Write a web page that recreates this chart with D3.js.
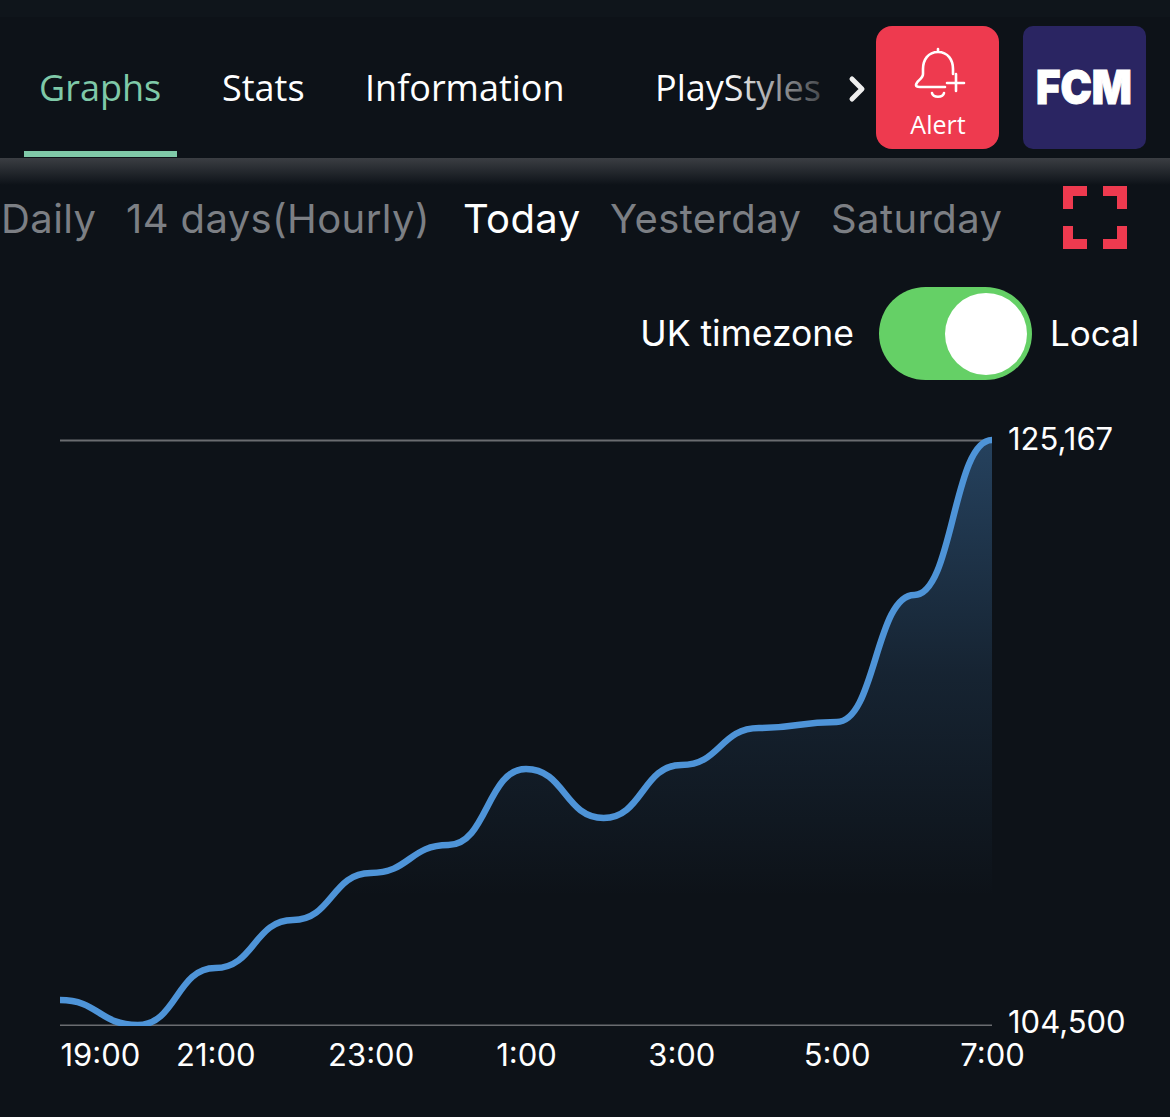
<!DOCTYPE html>
<html lang="en">
<head>
<meta charset="UTF-8">
<title>Player price graph</title>
<script src="https://cdn.jsdelivr.net/npm/d3@7"></script>
<style>
	html, body { margin: 0; padding: 0; background: #0d1218; }
	svg { display: block; }
	.tab { font-family: "Open Sans", sans-serif; font-size: 36px; fill: #fff; }
	.range { font-family: Inter, sans-serif; font-size: 40px; letter-spacing: 0.4px; fill: #7c7f84; }
	.tick text { font-family: Inter, sans-serif; font-size: 31px; fill: #fff; }
	.domain { display: none; }
</style>
</head>
<body>
<div id="vis"></div>
<script>
	var width = 1170;
	var height = 1117;

	// hourly prices
	var hours = ["19:00", "20:00", "21:00", "22:00", "23:00", "0:00", "1:00", "2:00", "3:00", "4:00", "5:00", "6:00", "7:00"];
	var prices = [105383, 104500, 106514, 108210, 109870, 110859, 113544, 111813, 113686, 114993, 115205, 119692, 125167];
	var priceTicks = [104500, 125167];
	var hourTicks = ["19:00", "21:00", "23:00", "1:00", "3:00", "5:00", "7:00"];
	var tabs = ["Graphs", "Stats", "Information", "PlayStyles"];
	var tabX = [39, 222, 365, 655];
	var ranges = ["Daily", "14 days(Hourly)", "Today", "Yesterday", "Saturday"];
	var rangeX = [1, 126, 463, 610, 831];

	var svg = d3.select("#vis").append("svg")
		.attr("width", width)
		.attr("height", height);

	var defs = svg.append("defs");

	var areaGrad = defs.append("linearGradient")
		.attr("id", "areaGrad")
		.attr("x1", 0).attr("x2", 0).attr("y1", 0).attr("y2", 1)
		.attr("gradientUnits", "objectBoundingBox");
	areaGrad.append("stop").attr("offset", "0%").attr("stop-color", "#4d8fd0").attr("stop-opacity", 0.38);
	areaGrad.append("stop").attr("offset", "40%").attr("stop-color", "#4d8fd0").attr("stop-opacity", 0.14);
	areaGrad.append("stop").attr("offset", "78%").attr("stop-color", "#4d8fd0").attr("stop-opacity", 0);

	var bandGrad = defs.append("linearGradient")
		.attr("id", "bandGrad")
		.attr("x1", 0).attr("x2", 0).attr("y1", 0).attr("y2", 1);
	bandGrad.append("stop").attr("offset", "0%").attr("stop-color", "#3b3e43");
	bandGrad.append("stop").attr("offset", "100%").attr("stop-color", "#0d1218");

	var fadeGrad = defs.append("linearGradient")
		.attr("id", "fadeGrad")
		.attr("gradientUnits", "userSpaceOnUse")
		.attr("x1", 725).attr("x2", 822).attr("y1", 0).attr("y2", 0);
	fadeGrad.append("stop").attr("offset", "0%").attr("stop-color", "#ffffff");
	fadeGrad.append("stop").attr("offset", "100%").attr("stop-color", "#44474b");

	// faint strip of the page header above the tabs
	svg.append("rect").attr("width", width).attr("height", 17).attr("fill", "#0f151b");

	// tabs
	svg.selectAll(".tab")
		.data(tabs)
		.enter().append("text")
		.attr("class", "tab")
		.attr("x", function(d, i) { return tabX[i]; })
		.attr("y", 101)
		.style("fill", function(d, i) {
			if (i == 0) return "#7fc9a8";
			if (i == 3) return "url(#fadeGrad)";
			return "#fff";
		})
		.text(function(d) { return d; });

	svg.append("rect").attr("x", 24).attr("y", 151).attr("width", 153).attr("height", 6).attr("fill", "#7fc9a8");
	svg.append("rect").attr("x", 0).attr("y", 158).attr("width", width).attr("height", 27).attr("fill", "url(#bandGrad)");

	svg.append("path")
		.attr("d", "M852,79 L862,89 L852,99")
		.attr("fill", "none").attr("stroke", "#eee").attr("stroke-width", 5).attr("stroke-linecap", "round").attr("stroke-linejoin", "round");

	// alert button
	svg.append("rect").attr("x", 876).attr("y", 26).attr("width", 123).attr("height", 123).attr("rx", 16).attr("fill", "#ee3a4f");
	svg.append("path")
		.attr("d", "M938,49 L938,52 C928,52 923,60 923,69 L923,74 C923,79 916,81 916,85 C916,87 918,87 920,87 L945,87 M938,52 C948,52 953,60 953,69 L953,74 M932,93 C933,98 943,98 944,93 M947,83 L964,83 M956,74 L956,91")
		.attr("fill", "none").attr("stroke", "#fff").attr("stroke-width", 2.6).attr("stroke-linecap", "round").attr("stroke-linejoin", "round");
	svg.append("text")
		.attr("x", 938).attr("y", 134)
		.attr("text-anchor", "middle")
		.attr("font-family", "Open Sans, sans-serif").attr("font-size", 25).attr("fill", "#fff")
		.text("Alert");

	// logo
	svg.append("rect").attr("x", 1023).attr("y", 26).attr("width", 123).attr("height", 123).attr("rx", 10).attr("fill", "#2a2562");
	svg.append("text")
		.attr("x", 1036).attr("y", 104)
		.attr("textLength", 96).attr("lengthAdjust", "spacingAndGlyphs")
		.attr("font-family", "Inter, sans-serif").attr("font-weight", 900).attr("font-size", 47)
		.attr("fill", "#fff").attr("stroke", "#fff").attr("stroke-width", 1)
		.text("FCM");

	// range selector
	svg.selectAll(".range")
		.data(ranges)
		.enter().append("text")
		.attr("class", "range")
		.attr("x", function(d, i) { return rangeX[i]; })
		.attr("y", 233)
		.style("fill", function(d) { return d == "Today" ? "#fff" : "#7c7f84"; })
		.text(function(d) { return d; });

	// fullscreen corners
	svg.append("path")
		.attr("d", "M1087,191 L1068,191 L1068,209 M1103,191 L1122,191 L1122,209 M1087,244 L1068,244 L1068,226 M1103,244 L1122,244 L1122,226")
		.attr("fill", "none").attr("stroke", "#ee3a4f").attr("stroke-width", 10);

	// timezone toggle
	svg.append("text")
		.attr("x", 854).attr("y", 346).attr("text-anchor", "end")
		.attr("font-family", "Inter, sans-serif").attr("font-size", 35.5).attr("fill", "#fff")
		.text("UK timezone");
	svg.append("text")
		.attr("x", 1050).attr("y", 346)
		.attr("font-family", "Inter, sans-serif").attr("font-size", 35).attr("fill", "#fff")
		.text("Local");
	svg.append("rect").attr("x", 879).attr("y", 287).attr("width", 153).attr("height", 93).attr("rx", 46.5).attr("fill", "#65d066");
	svg.append("circle").attr("cx", 986).attr("cy", 334).attr("r", 41).attr("fill", "#fff");

	// chart
	var x = d3.scalePoint().domain(hours).range([60, 992]);
	var y = d3.scaleLinear().domain([104500, 125167]).range([1025, 440]);

	var area = d3.area()
		.x(function(d, i) { return x(hours[i]); })
		.y0(y(104500))
		.y1(function(d) { return y(d); })
		.curve(d3.curveBumpX);

	var line = d3.line()
		.x(function(d, i) { return x(hours[i]); })
		.y(function(d) { return y(d); })
		.curve(d3.curveBumpX);

	svg.append("path").datum(prices).attr("d", area).attr("fill", "url(#areaGrad)");

	var yAxis = d3.axisRight(y)
		.tickValues(priceTicks)
		.tickFormat(d3.format(","))
		.tickSize(0);
	var yG = svg.append("g").attr("transform", "translate(992,0)").call(yAxis);
	yG.selectAll(".tick line")
		.attr("x1", -932).attr("x2", 0)
		.attr("stroke", "#6a6c70").attr("stroke-width", 2);
	yG.selectAll(".tick text")
		.attr("x", 16)
		.attr("dy", function(d) { return d == 104500 ? "0.24em" : "0.3em"; });

	svg.append("path").datum(prices)
		.attr("d", line)
		.attr("fill", "none")
		.attr("stroke", "#4e94d8")
		.attr("stroke-width", 6.5);

	var xAxis = d3.axisBottom(x)
		.tickValues(hourTicks)
		.tickSize(0)
		.tickPadding(19);
	var xG = svg.append("g").attr("transform", "translate(0,1025)").call(xAxis);
	xG.selectAll(".tick text")
		.attr("text-anchor", function(d) { return d == "19:00" ? "start" : "middle"; });

	// cover the stroke spilling under the baseline, the line is cut there in the app
	svg.append("rect").attr("x", 60).attr("y", 1026).attr("width", 932).attr("height", 8).attr("fill", "#0d1218");
</script>
</body>
</html>
